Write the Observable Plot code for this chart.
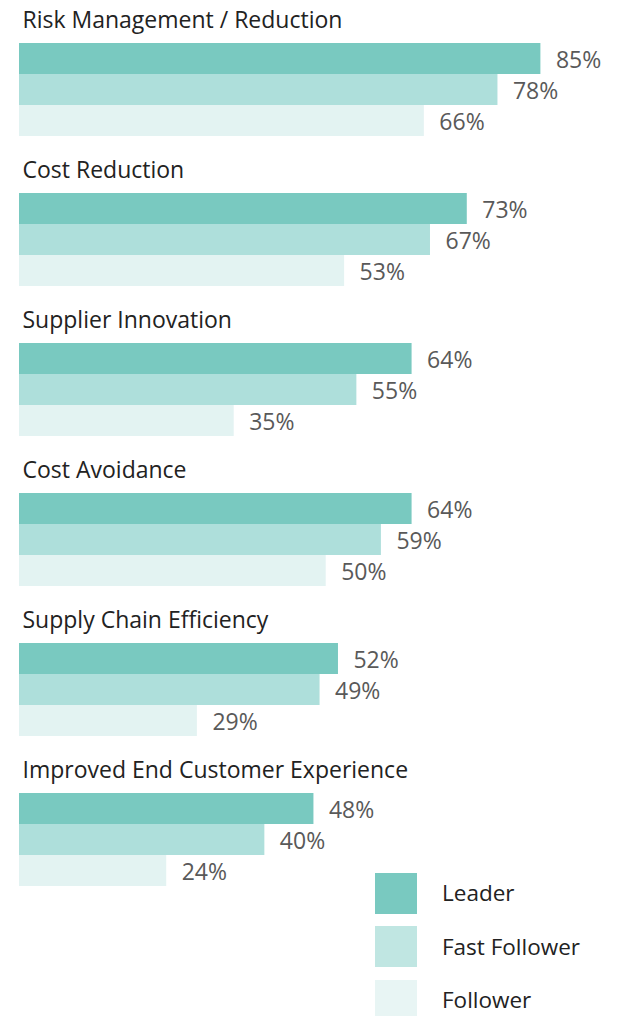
<!DOCTYPE html>
<html>
<head>
<meta charset="utf-8">
<script src="https://cdn.jsdelivr.net/npm/d3@7"></script>
<script src="https://cdn.jsdelivr.net/npm/@observablehq/plot@0.6"></script>
<style>
  html, body { margin: 0; padding: 0; background: #fff; }
  #wrap { position: relative; width: 617px; height: 1016px; overflow: hidden; font-family: "Open Sans", sans-serif; }
  #legend { position: absolute; left: 375px; top: 866.5px; }
  .item { display: flex; align-items: center; height: 53.5px; }
  .sw { width: 42px; height: 41px; margin-right: 25px; flex: none; }
  .lab { font-size: 22.5px; line-height: 1; color: #222; }
</style>
</head>
<body>
<div id="wrap">
  <div id="chart"></div>
  <div id="legend"></div>
</div>
<script>
const categories = [
  "Risk Management / Reduction",
  "Cost Reduction",
  "Supplier Innovation",
  "Cost Avoidance",
  "Supply Chain Efficiency",
  "Improved End Customer Experience"
];
const series = ["Leader", "Fast Follower", "Follower"];
const leader = [85, 73, 64, 64, 52, 48];
const fastFollower = [78, 67, 55, 59, 49, 40];
const follower = [66, 53, 35, 50, 29, 24];
const barColors = ["#79C9C0", "#AEDFDB", "#E3F3F2"];
const legendColors = ["#79C9C0", "#C0E6E2", "#E8F5F4"];

const seriesValues = [leader, fastFollower, follower];
const data = [];
categories.forEach((c, i) => {
  series.forEach((s, j) => {
    data.push({category: c, series: s, value: seriesValues[j][i]});
  });
});

const chart = Plot.plot({
  width: 617,
  height: 890,
  marginTop: 43,
  marginBottom: 4,
  marginLeft: 19,
  marginRight: 3,
  style: {fontFamily: "'Open Sans', sans-serif", background: "#fff"},
  x: {domain: [0, 97], axis: null},
  y: {domain: series, axis: null, padding: 0},
  fy: {domain: categories, axis: null, paddingInner: 0.38, paddingOuter: 0},
  color: {domain: series, range: barColors},
  marks: [
    Plot.barX(data, {x: "value", y: "series", fy: "category", fill: "series"}),
    Plot.text(data, {
      x: "value", y: "series", fy: "category",
      text: d => d.value + "%",
      textAnchor: "start", dx: 15, dy: 1.5,
      fontSize: 23, fill: "#595959"
    }),
    Plot.text(categories, {
      fy: d => d, text: d => d,
      frameAnchor: "top-left", textAnchor: "start", lineAnchor: "bottom",
      dx: 3, dy: -16, fontSize: 23, fill: "#222"
    })
  ]
});
document.getElementById("chart").appendChild(chart);

const legend = document.getElementById("legend");
series.forEach((s, i) => {
  const item = document.createElement("div");
  item.className = "item";
  const sw = document.createElement("div");
  sw.className = "sw";
  sw.style.background = legendColors[i];
  const lab = document.createElement("span");
  lab.className = "lab";
  lab.textContent = s;
  item.appendChild(sw);
  item.appendChild(lab);
  legend.appendChild(item);
});
</script>
</body>
</html>
